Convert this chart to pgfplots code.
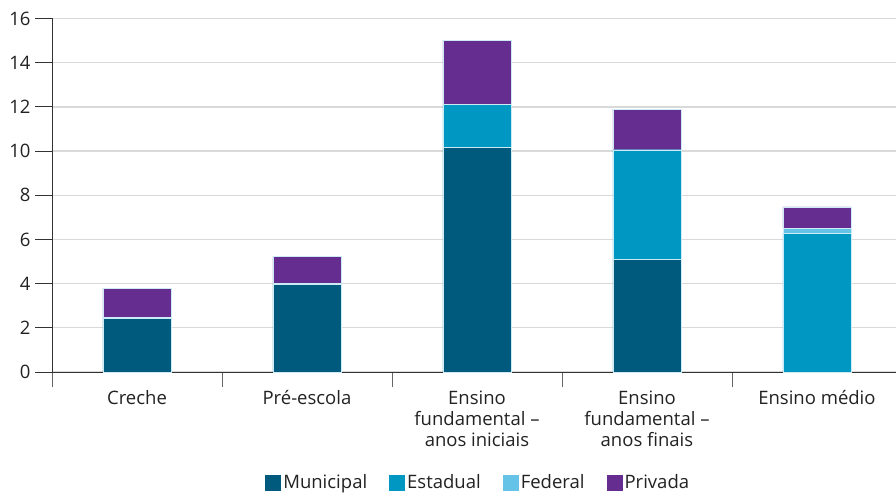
\documentclass[border=0pt]{standalone}
\usepackage{pgfplots}
\pgfplotsset{compat=1.18}
\usepackage{fontspec}
\setmainfont{Open Sans}
\definecolor{cMun}{HTML}{005A7E}
\definecolor{cEst}{HTML}{0097C3}
\definecolor{cFed}{HTML}{66C3E8}
\definecolor{cPri}{HTML}{652D90}
\definecolor{cGrid}{HTML}{D9D9D9}
\definecolor{cTxt}{HTML}{222222}
\definecolor{cEdge}{HTML}{CDEBF5}
\begin{document}
\begin{tikzpicture}
\begin{axis}[
  at={(0,0)}, anchor=south west,
  scale only axis, width=844pt, height=353.5pt,
  ybar stacked, bar width=0.4,
  xmin=-0.5, xmax=4.465, ymin=0, ymax=16,
  ytick={0,2,...,16},
  xtick={0,1,2,3,4},
  xticklabels={Creche,Pré-escola,{Ensino\\fundamental –\\anos iniciais},{Ensino\\fundamental –\\anos finais},Ensino médio},
  minor xtick={-0.5,0.5,1.5,2.5,3.5},
  axis x line=bottom, axis y line=left,
  axis line style={draw=black!80, line width=0.8pt, -},
  tick align=outside,
  major tick length=17pt, minor tick length=15pt,
  major x tick style={draw=none},
  minor x tick style={draw=black!60, line width=0.8pt},
  major y tick style={draw=black!80, line width=0.8pt},
  ymajorgrids, major grid style={draw=cGrid, line width=1.3pt},
  /pgf/number format/assume math mode=true,
  tick label style={font=\fontsize{18.5}{21}\selectfont, text=cTxt},
  x tick label style={align=center, yshift=2pt},
  y tick label style={xshift=-1pt},
  legend style={at={(0.505,-0.313)}, anchor=center, draw=none, legend columns=-1,
    font=\fontsize{18.5}{21}\selectfont, text=cTxt,
    /tikz/every even column/.append style={column sep=20pt}},
  legend image code/.code={\fill[#1,draw=none] (0pt,-8pt) rectangle (16pt,8pt);},
  every axis plot/.append style={draw=cEdge, line width=0.4pt},
]
\addplot[fill=cMun] coordinates {(0,2.43) (1,3.98) (2,10.17) (3,5.10) (4,0)};
\addplot[fill=cEst] coordinates {(0,0.04) (1,0.04) (2,1.94) (3,4.96) (4,6.29)};
\addplot[fill=cFed] coordinates {(0,0) (1,0) (2,0) (3,0) (4,0.23)};
\addplot[fill=cPri] coordinates {(0,1.31) (1,1.20) (2,2.91) (3,1.84) (4,0.95)};
\legend{Municipal,Estadual,Federal,Privada}
\end{axis}
\pgfresetboundingbox
\path[use as bounding box] (-52pt,-123pt) rectangle (844pt,372pt);
\end{tikzpicture}
\end{document}
